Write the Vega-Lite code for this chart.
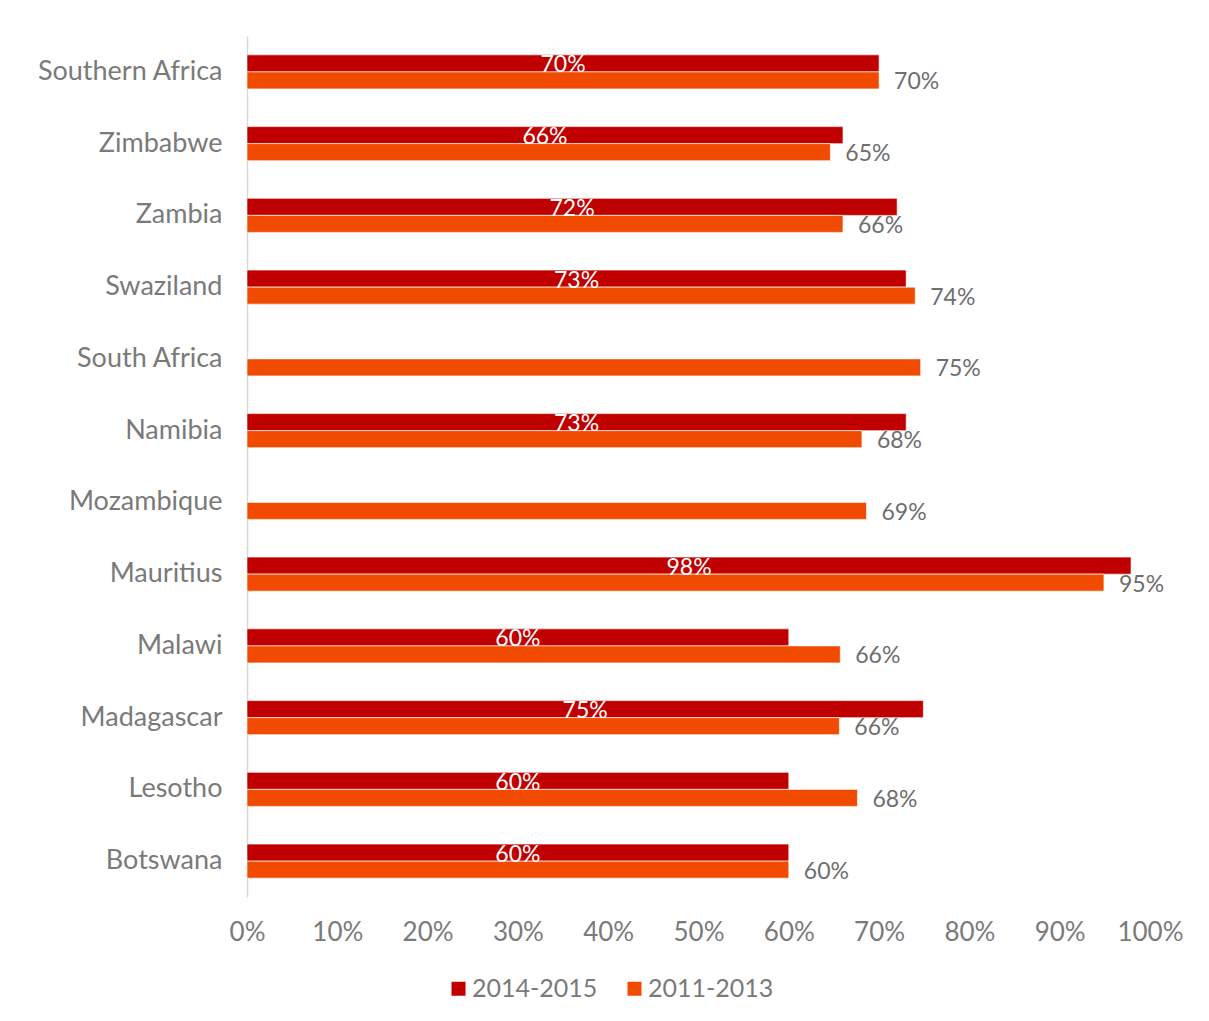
{
  "$schema": "https://vega.github.io/schema/vega-lite/v6.json",
  "autosize": "none",
  "width": 903,
  "height": 861,
  "padding": {"left": 247, "top": 36, "right": 59, "bottom": 124},
  "background": "white",
  "config": {
    "font": "Lato",
    "view": {"stroke": null}
  },
  "data": {
    "values": [
      {"country": "Southern Africa", "period": "2014-2015", "value": 0.70},
      {"country": "Southern Africa", "period": "2011-2013", "value": 0.70},
      {"country": "Zimbabwe", "period": "2014-2015", "value": 0.66},
      {"country": "Zimbabwe", "period": "2011-2013", "value": 0.646},
      {"country": "Zambia", "period": "2014-2015", "value": 0.72},
      {"country": "Zambia", "period": "2011-2013", "value": 0.66},
      {"country": "Swaziland", "period": "2014-2015", "value": 0.73},
      {"country": "Swaziland", "period": "2011-2013", "value": 0.74},
      {"country": "South Africa", "period": "2011-2013", "value": 0.746},
      {"country": "Namibia", "period": "2014-2015", "value": 0.73},
      {"country": "Namibia", "period": "2011-2013", "value": 0.681},
      {"country": "Mozambique", "period": "2011-2013", "value": 0.686},
      {"country": "Mauritius", "period": "2014-2015", "value": 0.979},
      {"country": "Mauritius", "period": "2011-2013", "value": 0.949},
      {"country": "Malawi", "period": "2014-2015", "value": 0.60},
      {"country": "Malawi", "period": "2011-2013", "value": 0.657},
      {"country": "Madagascar", "period": "2014-2015", "value": 0.749},
      {"country": "Madagascar", "period": "2011-2013", "value": 0.656},
      {"country": "Lesotho", "period": "2014-2015", "value": 0.60},
      {"country": "Lesotho", "period": "2011-2013", "value": 0.676},
      {"country": "Botswana", "period": "2014-2015", "value": 0.60},
      {"country": "Botswana", "period": "2011-2013", "value": 0.60}
    ]
  },
  "encoding": {
    "y": {
      "field": "country",
      "type": "nominal",
      "sort": ["Southern Africa", "Zimbabwe", "Zambia", "Swaziland", "South Africa", "Namibia", "Mozambique", "Mauritius", "Malawi", "Madagascar", "Lesotho", "Botswana"],
      "scale": {"paddingInner": 0.526, "paddingOuter": 0.263},
      "axis": {
        "title": null,
        "ticks": false,
        "domainColor": "#d9d9d9",
        "domainWidth": 1.5,
        "labelFontSize": 27,
        "labelColor": "#7a7a7a",
        "labelPadding": 25,
        "labelLimit": 400,
        "labelFont": "Lato"
      }
    },
    "yOffset": {
      "field": "period",
      "type": "nominal",
      "sort": ["2014-2015", "2011-2013"],
      "scale": {"paddingInner": 0, "paddingOuter": 0}
    }
  },
  "layer": [
    {
      "mark": {"type": "bar", "stroke": "white", "strokeWidth": 0.6},
      "encoding": {
        "x": {
          "field": "value",
          "type": "quantitative",
          "scale": {"domain": [0, 1], "nice": false},
          "axis": {
            "title": null,
            "format": ".0%",
            "values": [0, 0.1, 0.2, 0.3, 0.4, 0.5, 0.6, 0.7, 0.8, 0.9, 1.0],
            "grid": false,
            "ticks": false,
            "domain": false,
            "labelFontSize": 26,
            "labelColor": "#7a7a7a",
            "labelPadding": 22,
            "labelFlush": false,
            "labelOverlap": false
          }
        },
        "color": {
          "field": "period",
          "type": "nominal",
          "sort": ["2014-2015", "2011-2013"],
          "scale": {"domain": ["2014-2015", "2011-2013"], "range": ["#C00000", "#F04B00"]},
          "legend": {
            "title": null,
            "orient": "none",
            "direction": "horizontal",
            "legendX": 199,
            "legendY": 940,
            "symbolType": "square",
            "symbolSize": 196,
            "symbolStrokeWidth": 0,
            "labelFontSize": 25,
            "labelColor": "#7a7a7a",
            "labelOffset": 1,
            "columnPadding": 24
          }
        }
      }
    },
    {
      "transform": [{"filter": "datum.period === '2014-2015'"}],
      "mark": {"type": "text", "color": "white", "fontSize": 23, "align": "center", "baseline": "middle", "dy": 2},
      "encoding": {
        "x": {"field": "value", "type": "quantitative", "scale": {"domain": [0, 2], "nice": false}, "axis": null},
        "text": {"field": "value", "type": "quantitative", "format": ".0%"}
      }
    },
    {
      "transform": [{"filter": "datum.period === '2011-2013'"}],
      "mark": {"type": "text", "color": "#6e6e6e", "fontSize": 23, "align": "left", "baseline": "middle", "dx": 15, "dy": 2},
      "encoding": {
        "x": {"field": "value", "type": "quantitative", "scale": {"domain": [0, 1], "nice": false}, "axis": null},
        "text": {"field": "value", "type": "quantitative", "format": ".0%"}
      }
    }
  ],
  "resolve": {"scale": {"x": "independent"}}
}
